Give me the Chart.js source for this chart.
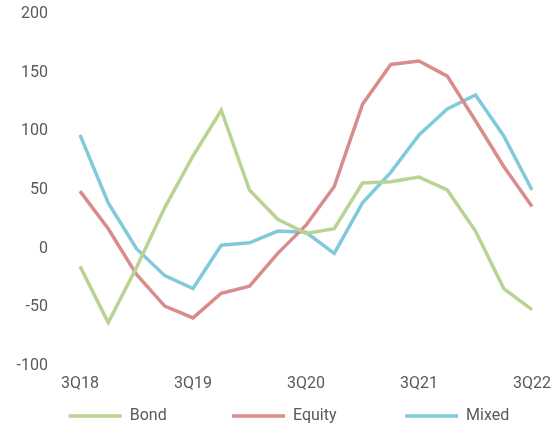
<!DOCTYPE html>
<html>
<head>
<meta charset="utf-8">
<script src="https://cdn.jsdelivr.net/npm/chart.js@4/dist/chart.umd.min.js"></script>
<style>
  html, body { margin: 0; padding: 0; background: #fff; }
  #wrap { width: 558px; height: 426px; position: relative; }
</style>
</head>
<body>
<div id="wrap"><canvas id="chart"></canvas></div>
<script>
const quarters = ["3Q18", "4Q18", "1Q19", "2Q19", "3Q19", "4Q19", "1Q20", "2Q20", "3Q20",
                  "4Q20", "1Q21", "2Q21", "3Q21", "4Q21", "1Q22", "2Q22", "3Q22"];
const bond   = [-15, -63, -16, 35, 79, 118, 50, 25, 13, 17, 56, 57, 61, 50, 15, -34, -52];
const equity = [49, 17, -22, -49, -59, -38, -32, -4, 20, 53, 123, 157, 160, 147, 109, 70, 36];
const mixed  = [97, 39, 0, -23, -34, 3, 5, 15, 14, -4, 39, 65, 97, 119, 131, 96, 50];
const yTicks = [-100, -50, 0, 50, 100, 150, 200];

const textGray = "#595959";
const font = { family: "Roboto, 'Liberation Sans', sans-serif", size: 16 };

function line(label, data, color) {
    return {
        label, data,
        borderColor: color, backgroundColor: color,
        borderWidth: 3.5, pointRadius: 0, tension: 0
    };
}

// space after each legend label
const legendGaps = ["\u2003\u2003\u2003\u2003", "\u2003\u2003\u2003\u2003\u2009", ""];

new Chart(document.getElementById("chart"), {
    type: "line",
    data: {
        labels: quarters,
        datasets: [
            line("Bond", bond, "#b9d490"),
            line("Equity", equity, "#d98c8c"),
            line("Mixed", mixed, "#82c9db")
        ]
    },
    options: {
        responsive: true,
        maintainAspectRatio: false,
        animation: false,
        layout: { padding: { left: 0, right: -20, top: 14, bottom: -8 } },
        plugins: {
            tooltip: { enabled: false },
            legend: {
                position: "bottom",
                labels: {
                    color: textGray,
                    font,
                    usePointStyle: true,
                    pointStyle: "line",
                    pointStyleWidth: 53,
                    padding: 0,
                    generateLabels: chart => {
                        const items = Chart.defaults.plugins.legend.labels.generateLabels(chart);
                        items.forEach((it, i) => {
                            it.pointStyle = "line";
                            it.text += legendGaps[i] || "";
                        });
                        return items;
                    }
                }
            }
        },
        scales: {
            x: {
                offset: false,
                grid: { display: false, drawTicks: false },
                border: { display: false },
                afterFit: s => { s.height = 42; s.paddingRight = 26; },
                ticks: {
                    color: textGray, font, padding: 8,
                    autoSkip: false, maxRotation: 0,
                    callback: (v, i) => (i % 4 === 0 ? quarters[i] : "")
                }
            },
            y: {
                min: yTicks[0],
                max: yTicks[yTicks.length - 1],
                grid: { display: false, drawTicks: false },
                border: { display: false },
                afterFit: s => { s.width = 80; s.paddingTop = 0; s.paddingBottom = 0; },
                afterBuildTicks: s => { s.ticks = yTicks.map(v => ({ value: v })); },
                ticks: { color: textGray, font, padding: 32 }
            }
        }
    }
});
</script>
</body>
</html>
